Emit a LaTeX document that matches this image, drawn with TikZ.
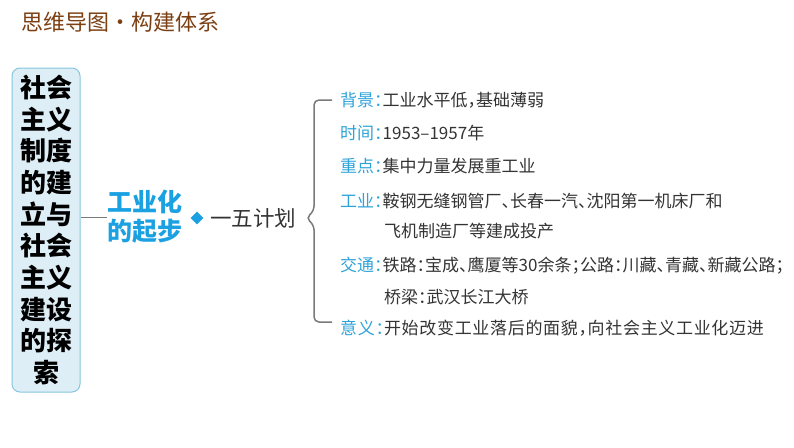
\documentclass[tikz,border=0pt]{standalone}
\usepackage{fontspec}
\usetikzlibrary{shapes.geometric}
\newfontfamily\cjk{Noto Sans CJK SC}
\newfontfamily\cjkh[RawFeature=+halt]{Noto Sans CJK SC}
\newfontfamily\cjkhs[RawFeature=+halt,LetterSpace=4]{Noto Sans CJK SC}
\definecolor{titlebrown}{HTML}{7B3F12}
\definecolor{boxfill}{HTML}{DDEEF6}
\definecolor{boxline}{HTML}{86C6DE}
\definecolor{keyblue}{HTML}{1BA1E2}
\definecolor{lblblue}{HTML}{2FA3D8}
\definecolor{txtgray}{HTML}{333333}
\definecolor{linegray}{HTML}{7A7A7A}
\tikzset{
  rootbox/.style={draw=boxline, line width=1pt, fill=boxfill, rounded corners=8pt,
    minimum width=68pt, minimum height=324pt, inner sep=0pt, align=center,
    font=\cjk\bfseries\fontsize{26}{31.7}\selectfont, text=black},
  keytext/.style={inner sep=0pt, align=center, text=keyblue,
    font=\cjk\bfseries\fontsize{25}{29}\selectfont},
  plantext/.style={inner sep=0pt, text=txtgray, font=\cjk\fontsize{21.5}{24}\selectfont},
  item/.style={inner sep=0pt, anchor=west, text=txtgray, font=\cjkh\fontsize{17}{20}\selectfont},
  conn/.style={draw=linegray, line width=0.8pt},
  bracepath/.style={draw=linegray, line width=1.5pt, rounded corners=5pt}
}
\newcommand{\lbl}[1]{\textcolor{lblblue}{#1}}
\begin{document}
\begin{tikzpicture}[x=1pt,y=-1pt]
\useasboundingbox (0,0) rectangle (794,447);
\node[anchor=west, inner sep=0pt, text=titlebrown, font=\cjk\fontsize{22}{24}\selectfont] (title) at (21,22) {思维导图·构建体系};
\node[rootbox] (root) at (46,230) {社会\\主义\\制度\\的建\\立与\\社会\\主义\\建设\\的探\\索};
\node[keytext, anchor=west] (key) at (107,217) {工业化\\的起步};
\node[diamond, fill=keyblue, inner sep=0pt, minimum size=13pt] (dia) at (197,218) {};
\node[plantext, anchor=west] (plan) at (210,218) {一五计划};
\draw[conn] (root.east |- key.west) -- (key.west);
% brace
\coordinate (bt) at (332,100);
\coordinate (bb) at (332,322);
\coordinate (bm) at (306,218);
\draw[bracepath] (bt) -- (314,100) -- (314,211) -- (bm) -- (314,225) -- (314,322) -- (bb);
% items
\node[item] (i1) at (340,100) {\lbl{背景：}工业水平低，基础薄弱};
\node[item] (i2) at (340,133) {\lbl{时间：}1953–1957年};
\node[item] (i3) at (340,166) {\lbl{重点：}集中力量发展重工业};
\node[item] (i4) at (340,201) {\lbl{工业：}鞍钢无缝钢管厂、长春一汽、沈阳第一机床厂和};
\node[item] (i4b) at (384,231) {飞机制造厂等建成投产};
\node[item] (i5) at (340,266) {\lbl{交通：}铁路：宝成、鹰厦等30余条；公路：川藏、青藏、新藏公路；};
\node[item] (i5b) at (384,297) {桥梁：武汉长江大桥};
\node[item, font=\cjkhs\fontsize{17}{20}\selectfont] (i6) at (340,328) {\lbl{意义：}开始改变工业落后的面貌，向社会主义工业化迈进};
\end{tikzpicture}
\end{document}
